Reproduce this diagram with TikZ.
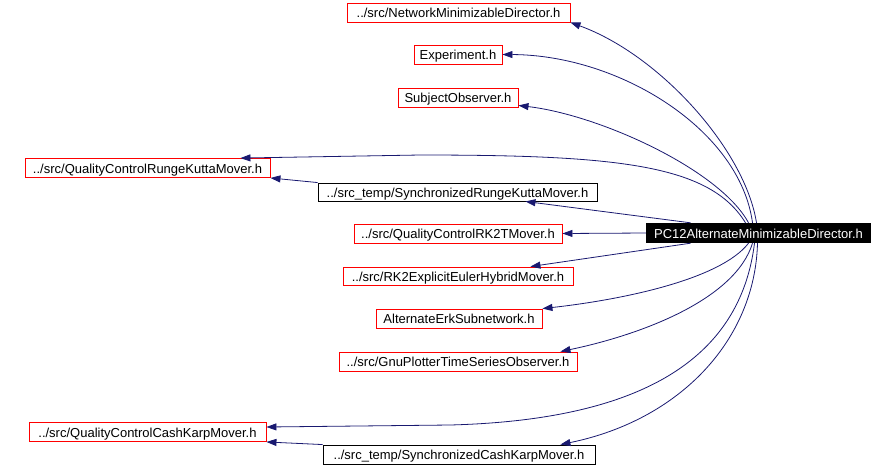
\documentclass[tikz,border=0pt]{standalone}
\usepackage{fontspec}
\setmainfont{Liberation Sans}
\usetikzlibrary{arrows.meta}
\definecolor{edgec}{HTML}{191970}
\begin{document}
\begin{tikzpicture}[x=1pt,y=-1pt,
  font=\fontsize{13}{15}\selectfont,
  box/.style={draw=red, line width=0.9pt, inner sep=0pt, minimum height=19pt, text height=11pt, text depth=1pt},
  bbox/.style={box, draw=black},
  main/.style={fill=black, text=white, inner sep=0pt, minimum height=20pt, text height=11pt, text depth=1pt},
  edge/.style={draw=edgec, line width=0.8pt, -{Triangle[length=10pt,width=7pt]}}]
\useasboundingbox (0,0) rectangle (894,467);
\node[box, minimum width=223pt] (nmd) at (458.5,12.5) {../src/NetworkMinimizableDirector.h};
\node[box, minimum width=88pt] (exp) at (458,54.5) {Experiment.h};
\node[box, minimum width=120pt] (so) at (458,97.5) {SubjectObserver.h};
\node[box, minimum width=245pt] (qcrk) at (147.5,168) {../src/QualityControlRungeKuttaMover.h};
\node[bbox, minimum width=279pt, minimum height=18pt] (srk) at (457.5,192) {../src\_temp/SynchronizedRungeKuttaMover.h};
\node[box, minimum width=208pt] (rkt) at (458,233.5) {../src/QualityControlRK2TMover.h};
\node[box, minimum width=230pt, minimum height=18pt] (rke) at (458,276) {../src/RK2ExplicitEulerHybridMover.h};
\node[box, minimum width=166pt] (aes) at (459,318.5) {AlternateErkSubnetwork.h};
\node[box, minimum width=238pt] (gp) at (458,361.5) {../src/GnuPlotterTimeSeriesObserver.h};
\node[box, minimum width=237pt] (qcck) at (147.5,432) {../src/QualityControlCashKarpMover.h};
\node[bbox, minimum width=272pt] (sck) at (459,454.5) {../src\_temp/SynchronizedCashKarpMover.h};
\node[main, minimum width=225pt] (pc) at (758.5,233) {PC12AlternateMinimizableDirector.h};

\draw[edge] ([xshift=-2pt]pc.north) .. controls (745,150) and (660,55) .. (nmd.south east);
\draw[edge] ([xshift=-6pt]pc.north) .. controls (740,130) and (620,55) .. (exp.east);
\draw[edge] ([xshift=-10pt]pc.north) .. controls (720,170) and (600,115) .. ([yshift=2pt]so.south east);
\draw[edge] ([xshift=-13pt]pc.north) .. controls (710,165) and (620,155) .. (420,155) -- ([xshift=-30pt]qcrk.north east);
\draw[edge] (srk.north west) -- (qcrk.south east);
\draw[edge] ([xshift=-68pt]pc.north) -- ([xshift=-72pt]srk.south east);
\draw[edge] (pc.west) -- (rkt.east);
\draw[edge] ([xshift=-68pt]pc.south) -- ([xshift=-43pt]rke.north east);
\draw[edge] ([xshift=-10pt]pc.south) .. controls (720,280) and (620,300) .. (aes.north east);
\draw[edge] ([xshift=-6pt]pc.south) .. controls (735,300) and (640,335) .. ([xshift=-17pt]gp.north east);
\draw[edge] ([xshift=-4pt]pc.south) .. controls (740,360) and (640,420) .. (450,425) -- ([yshift=5pt]qcck.east);
\draw[edge] (sck.north west) -- (qcck.south east);
\draw[edge] ([xshift=-1pt]pc.south) .. controls (755,340) and (680,420) .. ([xshift=-35pt]sck.north east);
\end{tikzpicture}
\end{document}
